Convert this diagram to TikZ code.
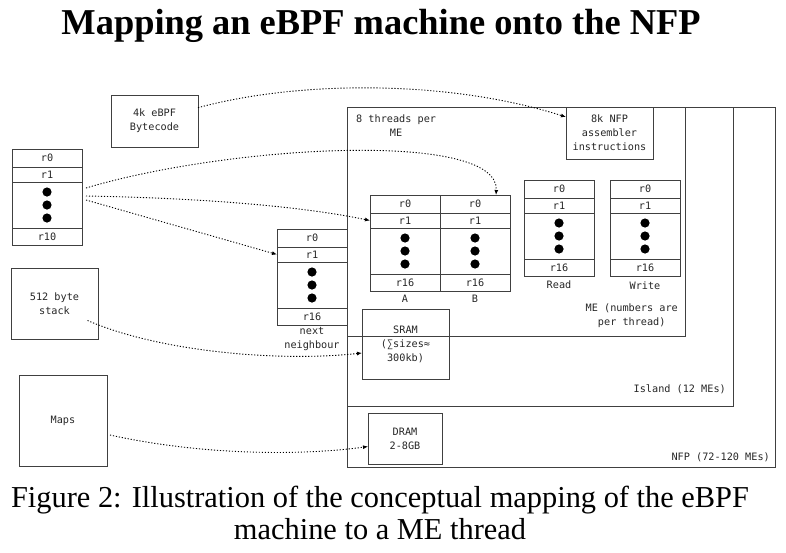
\documentclass[tikz,border=0pt]{standalone}
\usepackage{fontspec}
\setmainfont{Liberation Serif}
\newfontfamily\monofont{DejaVu Sans Mono}
\usetikzlibrary{positioning,arrows.meta}

\begin{document}
\begin{tikzpicture}[
    x=1pt, y=-1pt,
    every node/.style={font=\monofont\fontsize{10.2}{14}\selectfont, text=black!85},
    % Styles
    box/.style={draw=black!75, line width=0.9pt, inner sep=0pt, outer sep=0pt, align=center, anchor=north west},
    area/.style={draw=black!75, line width=0.9pt, inner sep=0pt, outer sep=0pt, anchor=north west},
    reg/.style={draw=black!75, line width=0.9pt, inner sep=0pt, outer sep=0pt, minimum width=70pt, minimum height=15pt},
    regtop/.style={reg, minimum height=18pt},
    regdots/.style={reg, minimum height=46pt},
    regend/.style={reg, minimum height=17pt},
    note/.style={inner sep=1pt, align=center},
    link/.style={-{Latex[length=5pt,width=4pt]}, dash pattern=on 1.2pt off 1.8pt, line width=0.9pt, black},
]
\useasboundingbox (0,0) rectangle (786,552);

% Title
\node[font=\bfseries\fontsize{36.4}{40}\selectfont, text=black] (title) at (381,26) {Mapping an eBPF machine onto the NFP};

% NFP, island and ME outlines
\node[area, minimum width=428, minimum height=360] (nfp) at (347,107) {};
\node[area, minimum width=386, minimum height=299] (island) at (347,107) {};
\node[area, minimum width=338, minimum height=229] (me) at (347,107) {};
\node[note, anchor=east] (nfp-label) at ([shift={(-4pt,10pt)}]nfp.south east) {NFP (72-120 MEs)};
\node[note, anchor=east] (island-label) at ([shift={(-6pt,17pt)}]island.south east) {Island (12 MEs)};
\node[note, anchor=east] (me-label) at ([shift={(-6pt,20pt)}]me.south east) {ME (numbers are\\per thread)};
\node[note, anchor=north west] (threads) at ([shift={(8pt,-7pt)}]me.north west) {8 threads per\\ME};

% eBPF side
\node[box, minimum width=87, minimum height=52] (bytecode) at (111,95) {4k eBPF\\Bytecode};
\node[box, minimum width=87, minimum height=71] (stack) at (11,268) {512 byte\\stack};
\node[box, minimum width=88, minimum height=91] (maps) at (19,375) {Maps};

\node[regtop, anchor=north west] (ebpf-r0) at (12,149) {r0};
\node[reg, below=0pt of ebpf-r0] (ebpf-r1) {r1};
\node[regdots, below=0pt of ebpf-r1] (ebpf-dots) {};
\node[regend, below=0pt of ebpf-dots] (ebpf-r10) {r10};

% NFP side
\node[box, minimum width=87, minimum height=52] (nfp-code) at (566,107) {8k NFP\\assembler\\instructions};
\node[box, minimum width=87, minimum height=70] (sram) at (362,309) {SRAM\\(∑sizes≈\\300kb)};
\node[box, minimum width=74, minimum height=51] (dram) at (368,413) {DRAM\\2-8GB};

% next neighbour registers
\node[regtop, anchor=north west] (nn-r0) at (277,229) {r0};
\node[reg, below=0pt of nn-r0] (nn-r1) {r1};
\node[regdots, below=0pt of nn-r1] (nn-dots) {};
\node[regend, below=0pt of nn-dots] (nn-r16) {r16};
\node[note, below=1pt of nn-r16] (nn-label) {next\\neighbour};

% thread A and B registers
\node[regtop, anchor=north west] (a-r0) at (370,195) {r0};
\node[reg, below=0pt of a-r0] (a-r1) {r1};
\node[regdots, below=0pt of a-r1] (a-dots) {};
\node[regend, below=0pt of a-dots] (a-r16) {r16};
\node[note, below=3pt of a-r16] (a-label) {A};

\node[regtop, anchor=north west] (b-r0) at (440,195) {r0};
\node[reg, below=0pt of b-r0] (b-r1) {r1};
\node[regdots, below=0pt of b-r1] (b-dots) {};
\node[regend, below=0pt of b-dots] (b-r16) {r16};
\node[note, below=3pt of b-r16] (b-label) {B};

% transfer registers
\node[regtop, anchor=north west] (rd-r0) at (524,180) {r0};
\node[reg, below=0pt of rd-r0] (rd-r1) {r1};
\node[regdots, below=0pt of rd-r1] (rd-dots) {};
\node[regend, below=0pt of rd-dots] (rd-r16) {r16};
\node[note, below=4pt of rd-r16] (rd-label) {Read};

\node[regtop, anchor=north west] (wr-r0) at (610,180) {r0};
\node[reg, below=0pt of wr-r0] (wr-r1) {r1};
\node[regdots, below=0pt of wr-r1] (wr-dots) {};
\node[regend, below=0pt of wr-dots] (wr-r16) {r16};
\node[note, below=5pt of wr-r16] (wr-label) {Write};

\foreach \c in {ebpf,nn,a,b,rd,wr}
    \foreach \d in {-13,0,13}
        \fill ([yshift=\d pt]\c-dots.center) circle (4.6pt);

% Mapping arrows
\draw[link] (bytecode.17) .. controls (300,80) and (450,80) .. ([yshift=16pt]nfp-code.west);
\draw[link] ([shift={(4pt,17pt)}]ebpf-dots.east) .. controls (230,145) and (500,130) .. ([xshift=21pt]b-r0.north);
\draw[link] ([shift={(4pt,9pt)}]ebpf-dots.east) .. controls (200,198) and (300,206) .. (a-r1.west);
\draw[link] ([shift={(4pt,5pt)}]ebpf-dots.east) -- (nn-r1.west);
\draw[link] ([shift={(33pt,-17pt)}]stack.center) .. controls (160,352) and (280,362) .. ([yshift=-9pt]sram.west);
\draw[link] ([shift={(3pt,-14.5pt)}]maps.east) .. controls (200,455) and (300,456) .. ([yshift=-8pt]dram.west);

% Caption
\node[font=\fontsize{30.4}{32}\selectfont, text=black, align=center] (caption) at (380,513) {Figure 2: Illustration of the conceptual mapping of the eBPF\\machine to a ME thread};

\end{tikzpicture}
\end{document}
